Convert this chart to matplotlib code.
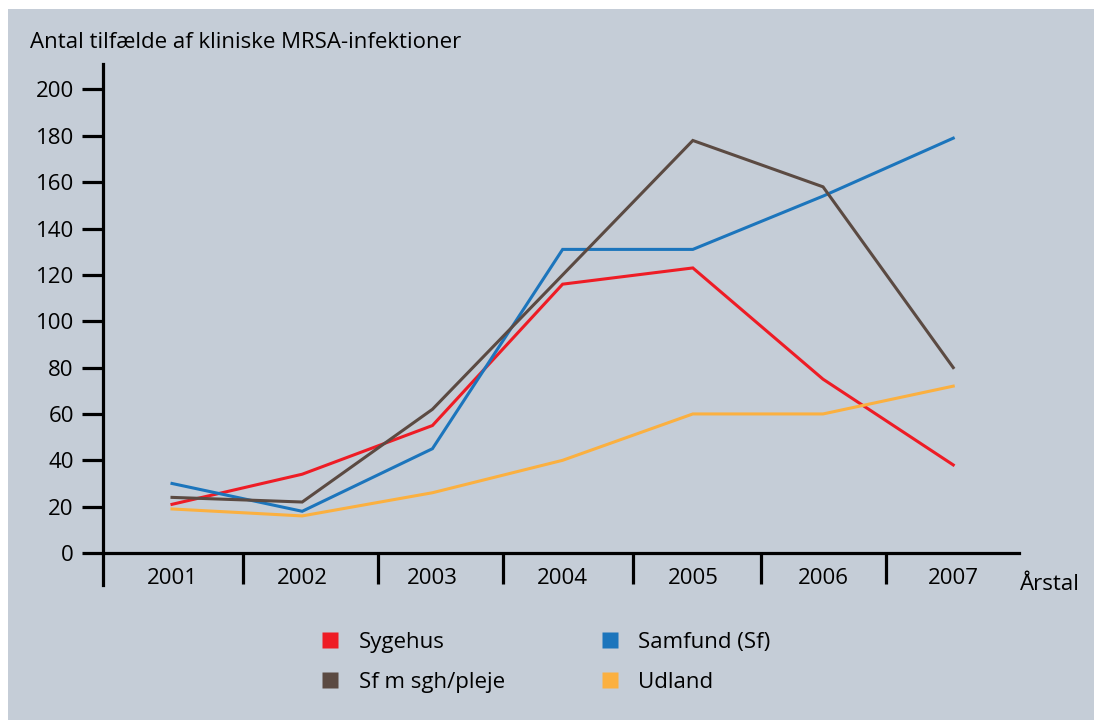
import matplotlib.pyplot as plt
from matplotlib.patches import Rectangle
from matplotlib.lines import Line2D

plt.rcParams['font.family'] = ['Open Sans', 'DejaVu Sans']

aar = ['2001', '2002', '2003', '2004', '2005', '2006', '2007']
sygehus = [21, 34, 55, 116, 123, 75, 38]
samfund = [30, 18, 45, 131, 131, 154, 179]
sf_pleje = [24, 22, 62, 120, 178, 158, 80]
udland = [19, 16, 26, 40, 60, 60, 72]

bg = '#c5cdd7'
farver = {'Sygehus': '#ee1c25', 'Samfund (Sf)': '#1c75bc',
          'Sf m sgh/pleje': '#5b4a42', 'Udland': '#fbb040'}
fs = 16

fig = plt.figure(figsize=(10.94, 7.2), dpi=100, facecolor='white')
# grå baggrund med hvid kant foroven og til venstre
fig.patches.append(Rectangle((8 / 1094, 0), 1 - 8 / 1094, 1 - 9 / 720,
                             transform=fig.transFigure, facecolor=bg,
                             edgecolor='none', zorder=-10))

ax = fig.add_axes([103 / 1094, (720 - 553) / 720, (1019 - 103) / 1094, (553 - 64) / 720])
ax.set_facecolor('none')

x = list(range(len(aar)))
ax.plot(x, sygehus, color=farver['Sygehus'], lw=2.2, solid_joinstyle='miter')
ax.plot(x, samfund, color=farver['Samfund (Sf)'], lw=2.2, solid_joinstyle='miter')
ax.plot(x, sf_pleje, color=farver['Sf m sgh/pleje'], lw=2.2, solid_joinstyle='miter')
ax.plot(x, udland, color=farver['Udland'], lw=2.2, solid_joinstyle='miter')

ax.set_xlim(-0.53, 6.505)
ax.set_ylim(0, 211)

for s in ['top', 'right']:
    ax.spines[s].set_visible(False)
ax.spines['left'].set_linewidth(2.3)
ax.spines['bottom'].set_linewidth(2.3)
ax.spines['left'].set_bounds(-14, 211)

ax.set_yticks(range(0, 201, 20))
ax.tick_params(axis='y', length=15, width=2.3, labelsize=fs, pad=6)

# skillestreger mellem årene under x-aksen
ax.set_xticks([0.545, 1.58, 2.54, 3.54, 4.52, 5.48])
ax.tick_params(axis='x', direction='out', length=22, width=2.3, labelbottom=False)
for i, a in enumerate(aar):
    ax.text(i, -6.5, a, ha='center', va='top', fontsize=fs)

fig.text(30 / 1094, 1 - 42 / 720, 'Antal tilfælde af kliniske MRSA-infektioner',
         fontsize=fs, ha='left', va='center')
ax.text(6.51, -9, 'Årstal', ha='left', va='top', fontsize=fs)

# signaturforklaring
navne = ['Sygehus', 'Sf m sgh/pleje', 'Samfund (Sf)', 'Udland']
handles = [Line2D([], [], ls='none', marker='s', markersize=12, markerfacecolor=farver[n],
                  markeredgecolor='none') for n in navne]
fig.legend(handles, navne, ncol=2, loc='upper left', bbox_to_anchor=(299 / 1094, 1 - 612 / 720),
           frameon=False, fontsize=fs, handletextpad=0.8, columnspacing=4.2,
           labelspacing=0.85, handlelength=1.0)

fig.savefig('out.png', dpi=100, facecolor='white')
